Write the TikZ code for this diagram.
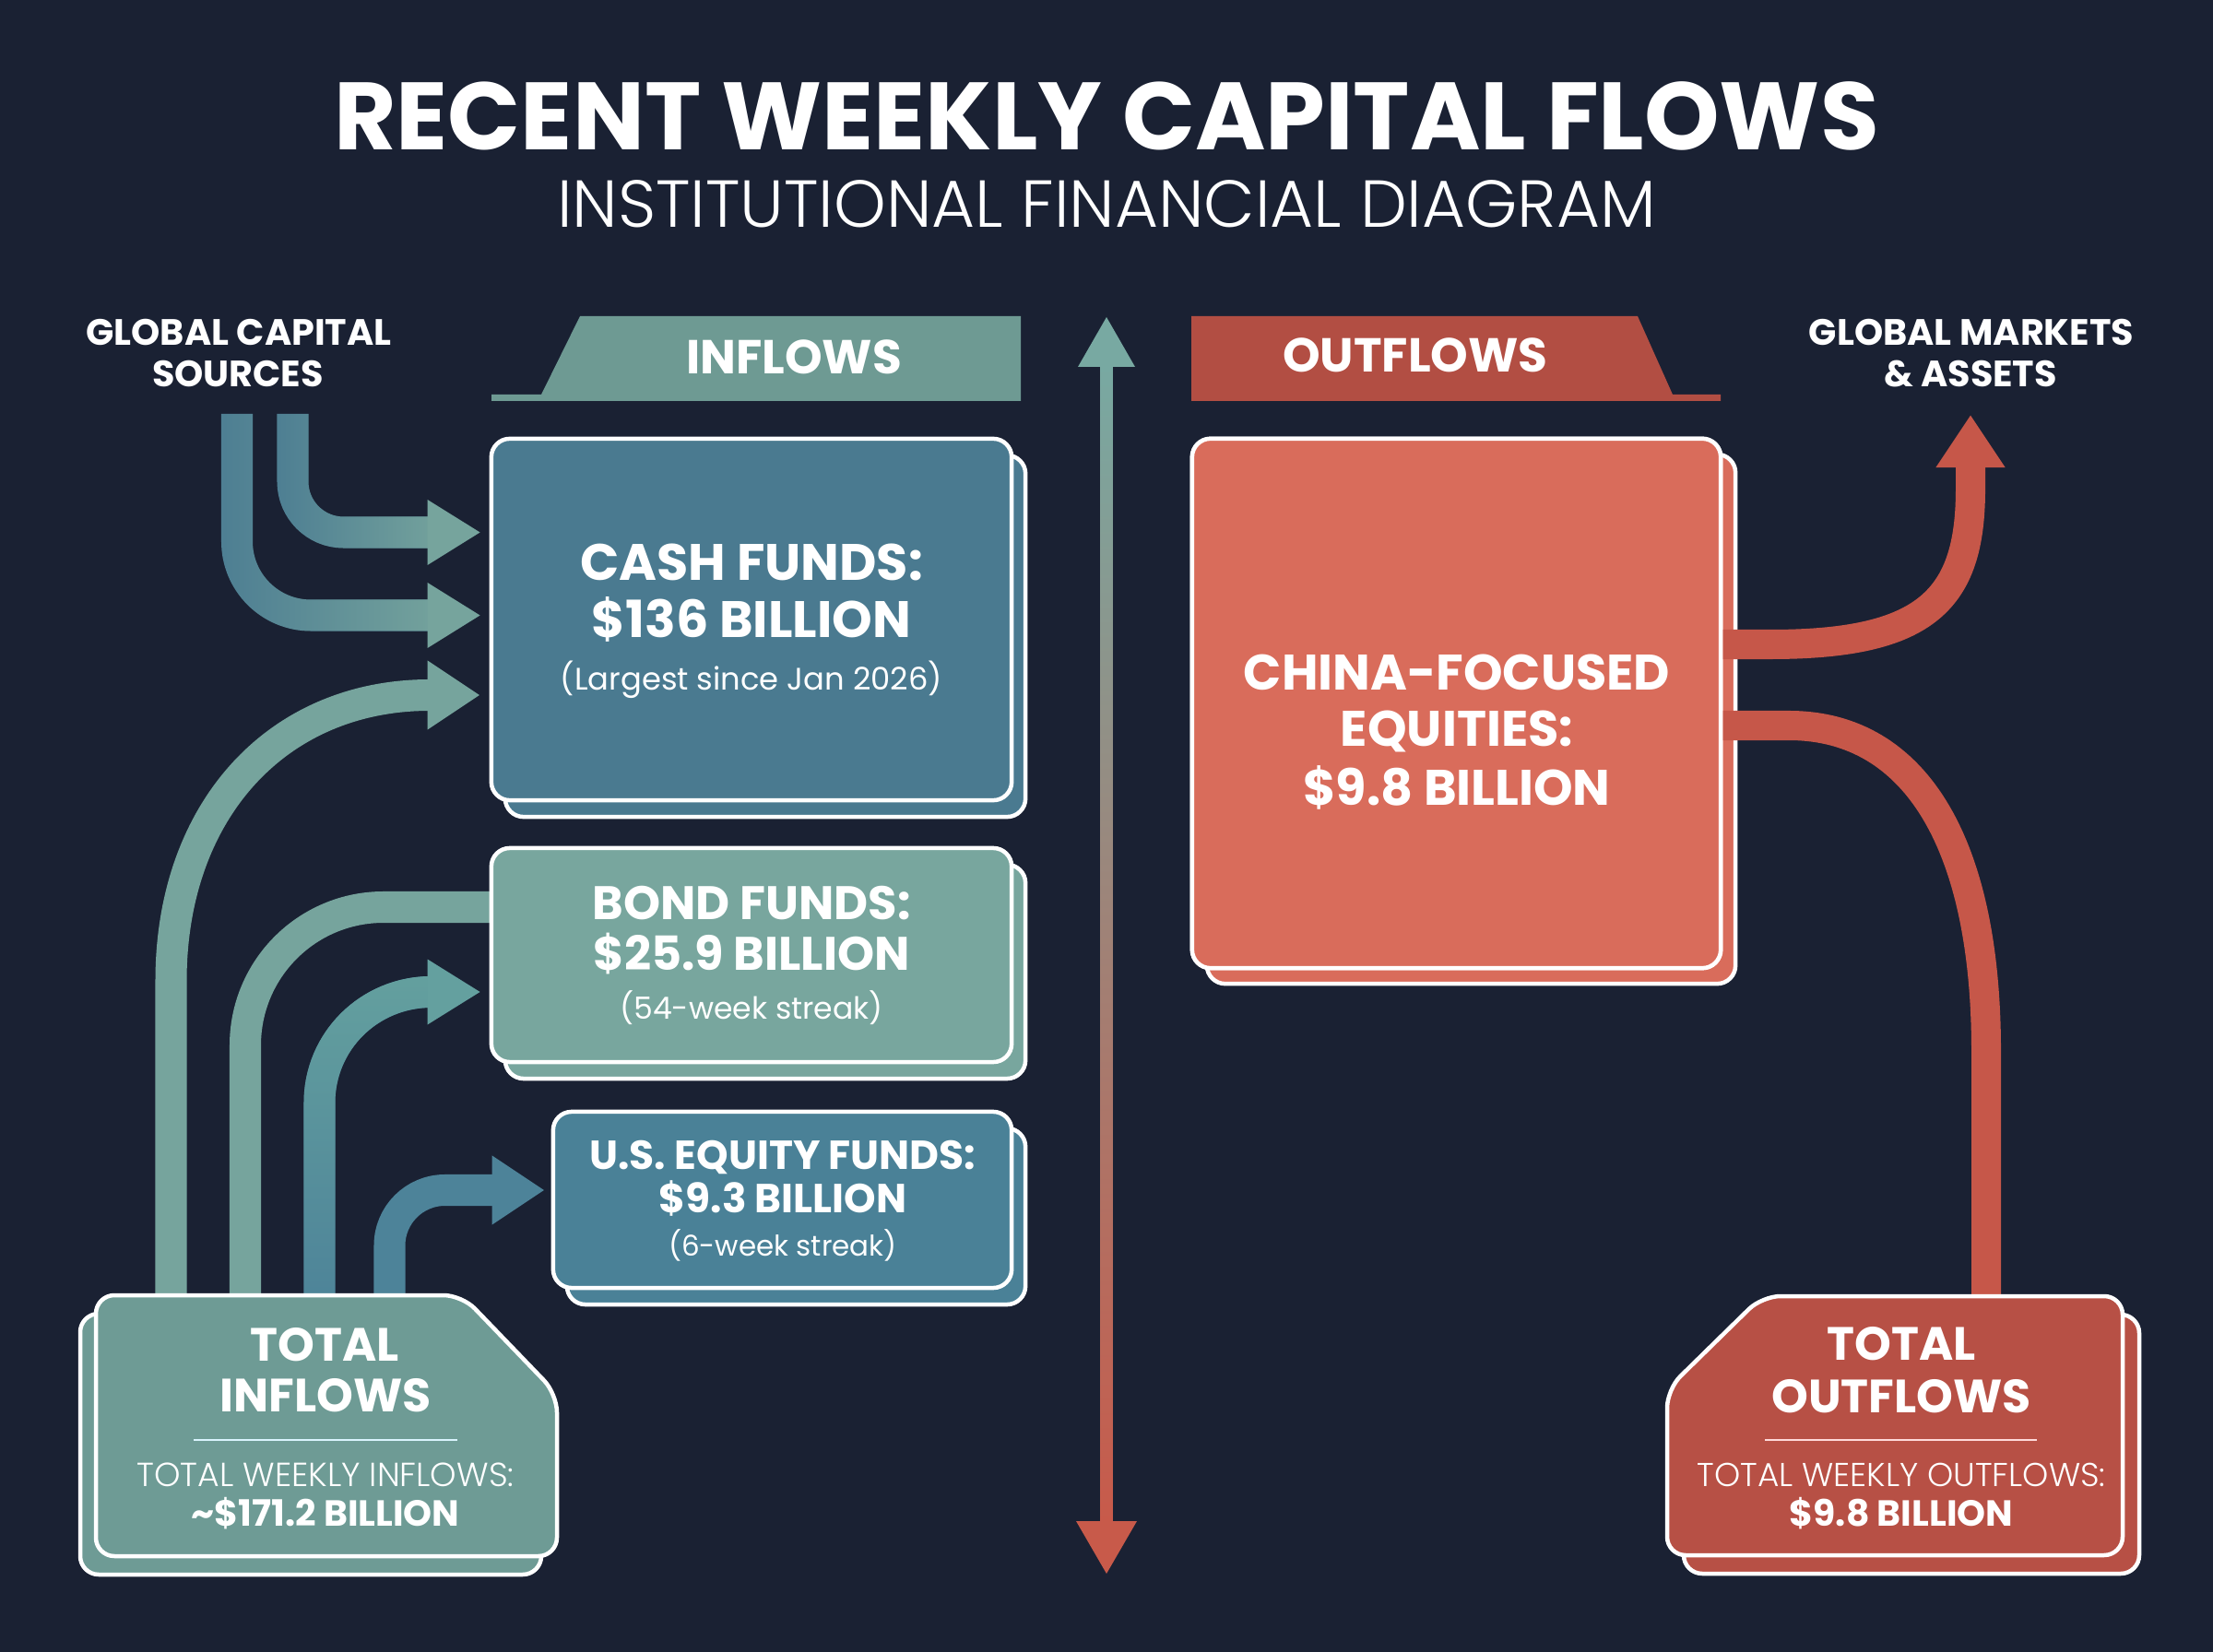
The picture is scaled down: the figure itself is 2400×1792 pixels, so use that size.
\documentclass[tikz,border=0pt]{standalone}
\usepackage{fontspec}
\setmainfont{Poppins}
\newfontfamily\lightfont{Poppins Light}
\usetikzlibrary{arrows.meta, calc, fadings, positioning}

\definecolor{bgnavy}{HTML}{1A2133}
\definecolor{cashc}{HTML}{4A7A90}
\definecolor{bondc}{HTML}{78A69E}
\definecolor{usc}{HTML}{4A8197}
\definecolor{tabin}{HTML}{6E9A93}
\definecolor{tinc}{HTML}{6E9B95}
\definecolor{chinac}{HTML}{D96C5B}
\definecolor{tabout}{HTML}{B24E43}
\definecolor{toutc}{HTML}{B75045}
\definecolor{redband}{HTML}{C65749}
\definecolor{sageband}{HTML}{76A49D}
\definecolor{tealband}{HTML}{64A09F}
\definecolor{blueband}{HTML}{4D8399}
\definecolor{topband}{HTML}{4E7F93}
\definecolor{axteal}{HTML}{78A9A2}
\definecolor{axmid}{HTML}{9A8A8C}
\definecolor{axred}{HTML}{C85A4A}

\tikzset{
  card/.style={draw=white, line width=0.045cm, rounded corners=0.2cm, inner sep=0pt},
  band/.style={line width=0.34cm},
  bhead/.style={-{Triangle[width=0.71cm,length=0.57cm]}},
  lbl/.style={text=white, anchor=base, inner sep=0pt},
}

\begin{document}
\begin{tikzpicture}[x=0.01cm, y=-0.01cm]
  % background
  \fill[bgnavy] (0,0) rectangle (2400,1792);
  \useasboundingbox (0,0) rectangle (2400,1792);

  % title
  \node[lbl, font=\fontsize{29.5}{34}\selectfont\bfseries] (title) at (1200,163) {RECENT WEEKLY CAPITAL FLOWS};
  \node[lbl, font=\fontsize{20.5}{25}\selectfont\lightfont] (subtitle) at (1200,247) {INSTITUTIONAL FINANCIAL DIAGRAM};

  % side labels
  \node[lbl, font=\fontsize{11.3}{13}\selectfont\bfseries] (srcA) at (259,375) {GLOBAL CAPITAL};
  \node[lbl, font=\fontsize{11.3}{13}\selectfont\bfseries] (srcB) at (258,420) {SOURCES};
  \node[lbl, font=\fontsize{11.3}{13}\selectfont\bfseries] (mktA) at (2138,375) {GLOBAL MARKETS};
  \node[lbl, font=\fontsize{11.3}{13}\selectfont\bfseries] (mktB) at (2137,420) {\& ASSETS};

  % tabs
  \fill[tabin] (533,428) -- (587,428) -- (629,343) -- (1107,343) -- (1107,435) -- (533,435) -- cycle;
  \node[lbl, font=\fontsize{14.7}{17}\selectfont\bfseries] (intab) at (861,406) {INFLOWS};
  \fill[tabout] (1292,343) -- (1776,343) -- (1814,428) -- (1866,428) -- (1866,435) -- (1292,435) -- cycle;
  \node[lbl, font=\fontsize{14.7}{17}\selectfont\bfseries] (outtab) at (1535,404) {OUTFLOWS};

  % centre axis
  \coordinate (axtop) at (1200,344);
  \coordinate (axbot) at (1200,1707);
  \shade[top color=axteal, middle color=axmid, bottom color=axred] (1193.5,396) rectangle (1206.5,1652);
  \fill[axteal] (axtop) -- (1169,398) -- (1231,398) -- cycle;
  \fill[axred] (axbot) -- (1167,1650) -- (1233,1650) -- cycle;

  % cards (back layer first)
  \node[card, fill=cashc, minimum width=5.64cm, minimum height=3.92cm] (cashback) at (830,690) {};
  \node[card, fill=cashc, minimum width=5.64cm, minimum height=3.92cm] (cash) at (815,672) {};
  \node[card, fill=bondc, minimum width=5.64cm, minimum height=2.32cm] (bondback) at (830,1054) {};
  \node[card, fill=usc, minimum width=4.97cm, minimum height=1.91cm] (usback) at (863.5,1319.5) {};
  \node[card, fill=chinac, minimum width=5.73cm, minimum height=5.74cm] (chinaback) at (1595.5,780) {};
  \node[card, fill=chinac, minimum width=5.73cm, minimum height=5.74cm] (china) at (1579.5,763) {};

  % band ends
  \coordinate (srcL) at (257,449);
  \coordinate (srcR) at (317.5,449);
  \coordinate (tin1) at (185.5,1410);
  \coordinate (tin2) at (266,1410);
  \coordinate (tin3) at (346.5,1410);
  \coordinate (tin4) at (422.5,1410);
  \coordinate (mkt) at (2137,450);
  \coordinate (tout1) at (2154,1410);

  % inflow bands
  \draw[band, topband] (srcR) [rounded corners=0.55cm] -- (317.5,577.5) -- (468,577.5);
  \draw[band, sageband, path fading=west] (srcR) [rounded corners=0.55cm] -- (317.5,577.5) -- (468,577.5);
  \fill[sageband] ($(cash.west)+(-67,-130)$) -- ($(cash.west)+(-10,-94.5)$) -- ($(cash.west)+(-67,-59)$) -- cycle;
  \draw[band, topband] (srcL) [rounded corners=0.8cm] -- (257,667.5) -- (468,667.5);
  \draw[band, sageband, path fading=west] (srcL) [rounded corners=0.8cm] -- (257,667.5) -- (468,667.5);
  \fill[sageband] ($(cash.west)+(-67,-40)$) -- ($(cash.west)+(-10,-4.5)$) -- ($(cash.west)+(-67,31)$) -- cycle;
  \draw[band, sageband, bhead] (tin1) -- (185.5,1064) .. controls (185.5,880) and (300,754) .. (466,754) -- ($(cash.west)+(-10,82)$);
  \draw[band, sageband] (tin2) -- (266,1134) .. controls (266,1051) and (333,984) .. (416,984) -- ($(cashback.west)+(0,294)$);
  \draw[band, blueband] (tin3) -- (346.5,1196) .. controls (346.5,1130) and (400,1076) .. (468,1076);
  \draw[band, tealband, path fading=south] (tin3) -- (346.5,1196) .. controls (346.5,1130) and (400,1076) .. (468,1076);
  \fill[tealband] ($(cash.west)+(-67,368.5)$) -- ($(cash.west)+(-10,404)$) -- ($(cash.west)+(-67,439.5)$) -- cycle;
  \draw[band, blueband, bhead] (tin4) [rounded corners=0.6cm] -- (422.5,1291) -- ($(cash.west)+(60,619)$);

  % outflow bands
  \draw[band, redband, bhead, line width=0.32cm] ($(china.east)+(0,-64)$) -- (1920,699) .. controls (2090,699) and (2137,650) .. (2137,530) -- (mkt);
  \draw[band, redband, line width=0.32cm] ($(china.east)+(0,24)$) -- (1940,787) .. controls (2080,787) and (2154,920) .. (2154,1140) -- (tout1);

  % cards covering band ends
  \node[card, fill=bondc, minimum width=5.64cm, minimum height=2.32cm] (bond) at (815,1036) {};
  \node[card, fill=usc, minimum width=4.97cm, minimum height=1.91cm] (us) at (848.5,1301.5) {};
  \node[card, fill=chinac, minimum width=5.73cm, minimum height=5.74cm] (china2) at (1579.5,763) {};

  % card texts
  \node[lbl, font=\fontsize{15.8}{19}\selectfont\bfseries] (cashA) at (815,630) {CASH FUNDS:};
  \node[lbl, font=\fontsize{15.8}{19}\selectfont\bfseries] (cashB) at (815,692) {\$136 BILLION};
  \node[lbl, font=\fontsize{9.6}{12}\selectfont] (cashC) at (815,749) {(Largest since Jan 2026)};
  \node[lbl, font=\fontsize{14.5}{17}\selectfont\bfseries] (bondA) at (815,998) {BOND FUNDS:};
  \node[lbl, font=\fontsize{14.5}{17}\selectfont\bfseries] (bondB) at (815,1052) {\$25.9 BILLION};
  \node[lbl, font=\fontsize{9.4}{12}\selectfont] (bondC) at (815,1105) {(54-week streak)};
  \node[lbl, font=\fontsize{12.5}{15}\selectfont\bfseries] (usA) at (849,1268) {U.S. EQUITY FUNDS:};
  \node[lbl, font=\fontsize{12.5}{15}\selectfont\bfseries] (usB) at (849,1315) {\$9.3 BILLION};
  \node[lbl, font=\fontsize{8.8}{11}\selectfont] (usC) at (849,1362) {(6-week streak)};
  \node[lbl, font=\fontsize{15.4}{19}\selectfont\bfseries] (chinaA) at (1580,749) {CHINA-FOCUSED};
  \node[lbl, font=\fontsize{15.4}{19}\selectfont\bfseries] (chinaB) at (1580,810) {EQUITIES:};
  \node[lbl, font=\fontsize{15.4}{19}\selectfont\bfseries] (chinaC) at (1580,874) {\$9.8 BILLION};

  % total inflows
  \draw[white, line width=0.045cm, fill=tinc, rounded corners=0.2cm] (87,1425) -- (484,1425) -- (587,1532) -- (587,1708) -- (87,1708) -- cycle;
  \draw[white, line width=0.045cm, fill=tinc, rounded corners=0.2cm] (104,1405) -- (501,1405) -- (604,1512) -- (604,1688) -- (104,1688) -- cycle;
  \node[lbl, font=\fontsize{14.4}{17}\selectfont\bfseries] (tinA) at (352,1476) {TOTAL};
  \node[lbl, font=\fontsize{14.4}{17}\selectfont\bfseries] (tinB) at (353,1531) {INFLOWS};
  \draw[white!85!cyan, line width=0.025cm] (210,1562) -- (496,1562);
  \node[lbl, font=\fontsize{10.3}{12}\selectfont\lightfont] (tinC) at (353,1612) {TOTAL WEEKLY INFLOWS:};
  \node[lbl, font=\fontsize{11.2}{13}\selectfont\bfseries] (tinD) at (353,1655) {\textasciitilde\$171.2 BILLION};

  % total outflows
  \draw[white, line width=0.045cm, fill=toutc, rounded corners=0.2cm] (1929,1426) -- (2320,1426) -- (2320,1707) -- (1826,1707) -- (1826,1527) -- cycle;
  \draw[white, line width=0.045cm, fill=toutc, rounded corners=0.2cm] (1911,1406) -- (2302,1406) -- (2302,1687) -- (1808,1687) -- (1808,1507) -- cycle;
  \node[lbl, font=\fontsize{14.4}{17}\selectfont\bfseries] (toutA) at (2062,1475) {TOTAL};
  \node[lbl, font=\fontsize{14.4}{17}\selectfont\bfseries] (toutB) at (2062,1532) {OUTFLOWS};
  \draw[white!85!red, line width=0.025cm] (1914,1562) -- (2209,1562);
  \node[lbl, font=\fontsize{10.2}{12}\selectfont\lightfont] (toutC) at (2062,1612) {TOTAL WEEKLY OUTFLOWS:};
  \node[lbl, font=\fontsize{11.2}{13}\selectfont\bfseries] (toutD) at (2062,1655) {\$9.8 BILLION};
\end{tikzpicture}
\end{document}
